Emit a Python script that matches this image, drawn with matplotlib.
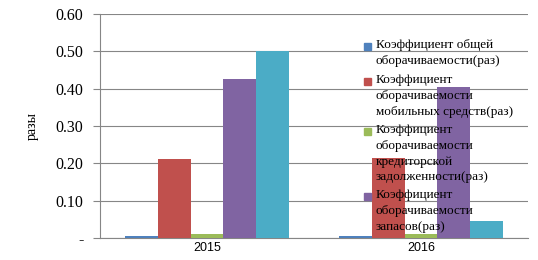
import numpy as np
from matplotlib import pyplot as plt
from matplotlib.patches import Rectangle
from matplotlib.ticker import FuncFormatter

years = ['2015', '2016']
labels = ['Коэффициент общей\nоборачиваемости(раз)',
          'Коэффициент\nоборачиваемости\nмобильных средств(раз)',
          'Коэффициент\nоборачиваемости\nкредиторской\nзадолженности(раз)',
          'Коэффициент\nоборачиваемости\nзапасов(раз)']
total_turnover = [0.005, 0.005]
mobile_turnover = [0.212, 0.215]
payables_turnover = [0.012, 0.010]
stock_turnover = [0.427, 0.405]
fifth_turnover = [0.502, 0.046]
series = [total_turnover, mobile_turnover, payables_turnover, stock_turnover, fifth_turnover]
colors = ['#4F81BD', '#C0504D', '#9BBB59', '#8064A2', '#4BACC6']

W, H = 538, 260
fig = plt.figure(figsize=(W / 100, H / 100), dpi=100)
ax = fig.add_axes([100 / W, 22 / H, 428 / W, 224 / H])

x = np.arange(len(years))
w = 0.154
for i, vals in enumerate(series):
    ax.bar(x + (i - 2) * w, vals, width=w, color=colors[i], zorder=3)

ax.set_xlim(-0.5, 1.5)
ax.set_ylim(0, 0.6)
ax.set_yticks(np.arange(0, 0.61, 0.1))
ax.yaxis.set_major_formatter(FuncFormatter(lambda v, p: '-' if v == 0 else '%.2f' % v))
ax.set_xticks(x)
ax.set_xticklabels(years, fontfamily='Liberation Sans', fontsize=9)
ax.grid(axis='y', color='#868686', linewidth=0.8, zorder=0)
for s in ['top', 'right']:
    ax.spines[s].set_visible(False)
for s in ['left', 'bottom']:
    ax.spines[s].set_color('#868686')
ax.tick_params(axis='x', length=0, pad=3)
ax.tick_params(axis='y', length=5, color='#868686', pad=7)
for t in ax.get_yticklabels():
    t.set_fontfamily('Liberation Serif')
    t.set_fontsize(11.5)
ax.set_ylabel('разы', fontfamily='Liberation Serif', fontsize=10, labelpad=12)

# legend drawn by hand: marker sits next to the first line of each entry
line_h = 15
y = 46
for lab, c in zip(labels, colors):
    fig.patches.append(Rectangle((364 / W, 1 - (y + 3.5) / H), 7 / W, 7 / H,
                                 transform=fig.transFigure, color=c, zorder=5))
    fig.text(376 / W, 1 - (y - 7) / H, lab, va='top', ha='left',
             fontfamily='Liberation Serif', fontsize=9.5, linespacing=1.42, zorder=6)
    y += line_h * (lab.count('\n') + 1) + 5

fig.savefig('out.png', dpi=100)
